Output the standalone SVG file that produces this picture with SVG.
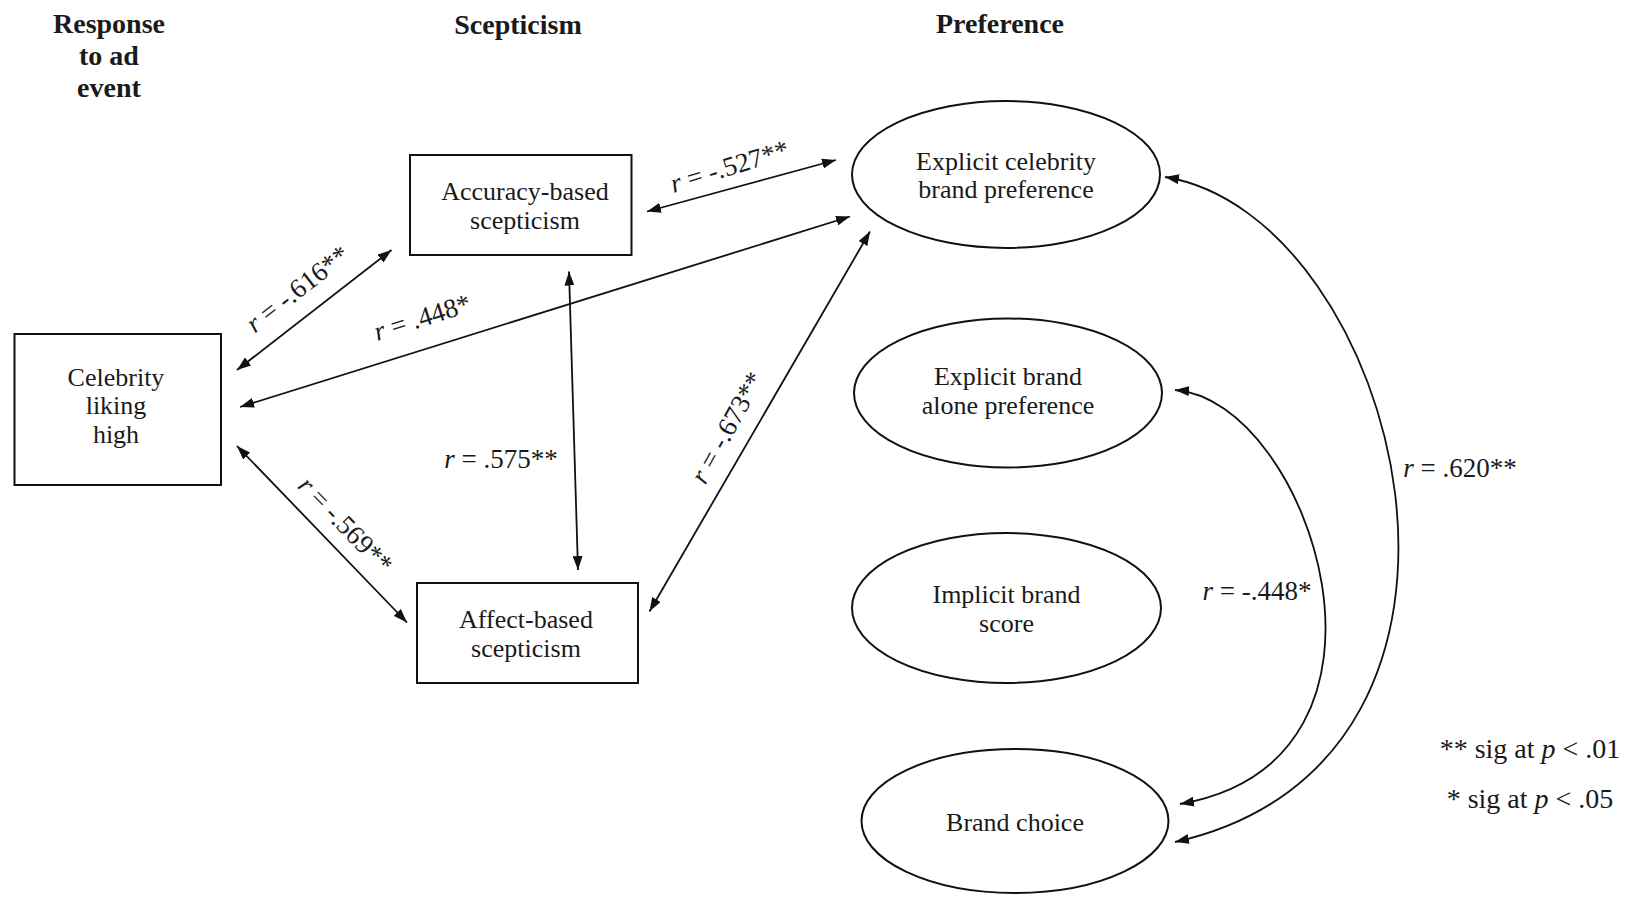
<svg xmlns="http://www.w3.org/2000/svg" width="1633" height="897" viewBox="0 0 1633 897">
  <style>
    text { font-family: "Liberation Serif", "Times New Roman", serif; fill: #1a1a1a; }
    .hdr { font-size: 28px; font-weight: bold; text-anchor: middle; }
    .lbl { font-size: 26px; text-anchor: middle; }
    .r { font-size: 27px; text-anchor: middle; }
    .key { font-size: 28px; text-anchor: middle; }
    .box { fill: #ffffff; stroke: #111111; stroke-width: 2; }
    .conn { fill: none; stroke: #111111; stroke-width: 1.8; marker-start: url(#ah); marker-end: url(#ah); }
  </style>
  <defs>
    <marker id="ah" viewBox="0 0 14 10" refX="14" refY="5" markerWidth="14" markerHeight="10" markerUnits="userSpaceOnUse" orient="auto-start-reverse">
      <path d="M0,0 L14,5 L0,10 Z" fill="#111111"/>
    </marker>
  </defs>
  <rect width="1633" height="897" fill="#ffffff"/>

  <!-- column headings -->
  <g id="headings">
    <text class="hdr" x="109" y="33">Response</text>
    <text class="hdr" x="109" y="65">to ad</text>
    <text class="hdr" x="109" y="97">event</text>
    <text class="hdr" x="518" y="34">Scepticism</text>
    <text class="hdr" x="1000" y="33">Preference</text>
  </g>

  <!-- connectors -->
  <g id="connectors">
    <line class="conn" x1="237" y1="370" x2="391.5" y2="250"/>
    <line class="conn" x1="240" y1="407" x2="850" y2="216.5"/>
    <line class="conn" x1="237" y1="446" x2="407" y2="622.5"/>
    <line class="conn" x1="647" y1="211.5" x2="836" y2="160"/>
    <line class="conn" x1="569" y1="271.5" x2="578" y2="570"/>
    <line class="conn" x1="649.5" y1="611.5" x2="870" y2="231.5"/>
    <path class="conn" d="M1165,177 C1400,215 1540,760 1175,842"/>
    <path class="conn" d="M1175,390 C1310,400 1430,760 1180,804"/>
  </g>

  <!-- correlation labels -->
  <g id="labels">
    <text class="r" transform="translate(303,296) rotate(-38)"><tspan font-style="italic">r</tspan> = -.616**</text>
    <text class="r" transform="translate(425,326) rotate(-17.5)"><tspan font-style="italic">r</tspan> = .448*</text>
    <text class="r" transform="translate(732,175) rotate(-17)"><tspan font-style="italic">r</tspan> = -.527**</text>
    <text class="r" transform="translate(735,432) rotate(-61)"><tspan font-style="italic">r</tspan> = -.673**</text>
    <text class="r" transform="translate(339,531) rotate(46)"><tspan font-style="italic">r</tspan> = -.569**</text>
    <text class="r" x="501" y="468"><tspan font-style="italic">r</tspan> = .575**</text>
    <text class="r" x="1460" y="477"><tspan font-style="italic">r</tspan> = .620**</text>
    <text class="r" x="1257" y="600"><tspan font-style="italic">r</tspan> = -.448*</text>
  </g>

  <!-- nodes -->
  <g id="celebrity-liking">
    <rect class="box" x="14.5" y="334" width="206.5" height="151"/>
    <text class="lbl" x="116" y="386">Celebrity</text>
    <text class="lbl" x="116" y="414">liking</text>
    <text class="lbl" x="116" y="443">high</text>
  </g>
  <g id="accuracy-scepticism">
    <rect class="box" x="410" y="155" width="221.5" height="100"/>
    <text class="lbl" x="525" y="200">Accuracy-based</text>
    <text class="lbl" x="525" y="229">scepticism</text>
  </g>
  <g id="affect-scepticism">
    <rect class="box" x="417" y="583" width="221" height="100"/>
    <text class="lbl" x="526" y="628">Affect-based</text>
    <text class="lbl" x="526" y="657">scepticism</text>
  </g>
  <g id="explicit-celebrity-pref">
    <ellipse class="box" cx="1006" cy="174.5" rx="154" ry="73.5"/>
    <text class="lbl" x="1006" y="170">Explicit celebrity</text>
    <text class="lbl" x="1006" y="198">brand preference</text>
  </g>
  <g id="explicit-brand-pref">
    <ellipse class="box" cx="1008" cy="393" rx="154" ry="74.5"/>
    <text class="lbl" x="1008" y="385">Explicit brand</text>
    <text class="lbl" x="1008" y="414">alone preference</text>
  </g>
  <g id="implicit-brand-score">
    <ellipse class="box" cx="1006.5" cy="608" rx="154.5" ry="75"/>
    <text class="lbl" x="1006.5" y="603">Implicit brand</text>
    <text class="lbl" x="1006.5" y="632">score</text>
  </g>
  <g id="brand-choice">
    <ellipse class="box" cx="1015" cy="821" rx="153.5" ry="72"/>
    <text class="lbl" x="1015" y="831">Brand choice</text>
  </g>

  <!-- significance key -->
  <g id="legend">
    <text class="key" x="1530" y="758">** sig at <tspan font-style="italic">p</tspan> &lt; .01</text>
    <text class="key" x="1530" y="808">* sig at <tspan font-style="italic">p</tspan> &lt; .05</text>
  </g>
</svg>
